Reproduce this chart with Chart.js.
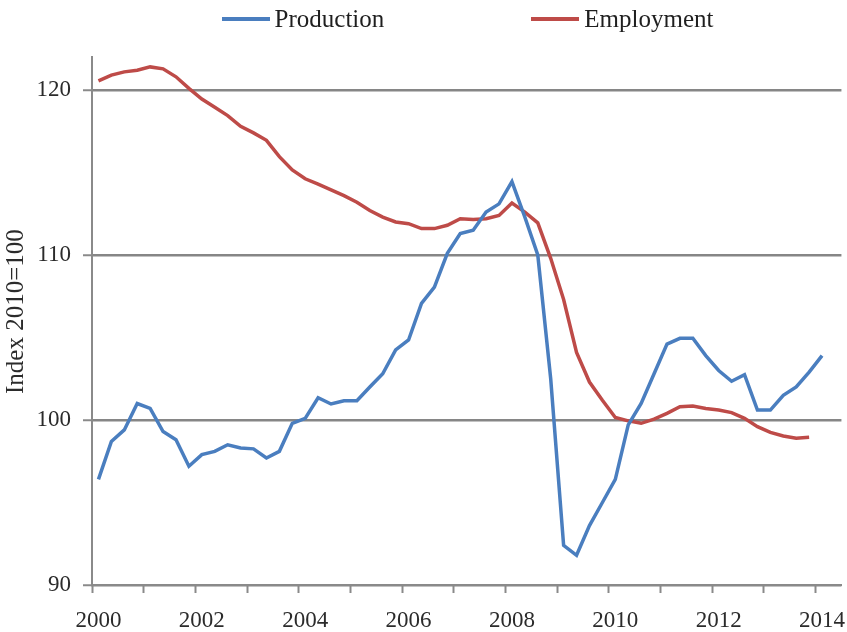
<!DOCTYPE html>
<html>
<head>
<meta charset="utf-8">
<script src="https://cdn.jsdelivr.net/npm/chart.js@4.4.1/dist/chart.umd.min.js"></script>
<style>
    body { margin: 0; background: #fff; }
    #grafico { position: relative; width: 847px; height: 632px; }
    #legenda {
        position: absolute; top: 5px; left: 92px; width: 751px;
        display: flex; justify-content: center; gap: 147px;
        font-family: 'Liberation Serif', serif; font-size: 25px; color: #1f1f1f;
    }
    #legenda .item { display: flex; align-items: center; }
    #legenda .linha { width: 48px; height: 4px; margin-right: 5px; }
</style>
</head>
<body>
<div id="grafico">
    <canvas id="graficoIndice"></canvas>
    <div id="legenda"></div>
</div>
<script>
const years = [2000, 2001, 2002, 2003, 2004, 2005, 2006, 2007, 2008, 2009, 2010, 2011, 2012, 2013, 2014];
const quarterNames = ['Q1', 'Q2', 'Q3', 'Q4'];
const yTicks = [90, 100, 110, 120];

const production = [
    96.4, 98.7, 99.4, 101.0,
    100.7, 99.3, 98.8, 97.2,
    97.9, 98.1, 98.5, 98.3,
    98.25, 97.7, 98.1, 99.8,
    100.1, 101.35, 100.97, 101.17,
    101.17, 102.0, 102.8, 104.25,
    104.85, 107.07, 108.05, 110.1,
    111.3, 111.5, 112.6, 113.1,
    114.45, 112.3, 110.0, 102.5,
    92.4, 91.8, 93.6, 95.0,
    96.4, 99.7, 101.0, 102.8,
    104.6, 104.95, 104.95, 103.9,
    103.0, 102.35, 102.75, 100.6,
    100.6, 101.5, 102.0, 102.9,
    103.9
];

const employment = [
    120.55, 120.9, 121.1, 121.2,
    121.4, 121.28, 120.8, 120.1,
    119.45, 118.95, 118.45, 117.8,
    117.4, 116.95, 115.96, 115.15,
    114.62, 114.3, 113.95, 113.6,
    113.2, 112.7, 112.3, 112.0,
    111.9, 111.6, 111.6, 111.8,
    112.2, 112.15, 112.2, 112.4,
    113.15, 112.6, 111.95, 109.8,
    107.3, 104.1, 102.3, 101.2,
    100.15, 99.95, 99.8, 100.05,
    100.4, 100.8, 100.85, 100.7,
    100.6, 100.45, 100.1, 99.6,
    99.25, 99.03, 98.9, 98.95
];

// eixo de categorias trimestral, de 2000 Q1 ate 2014 Q2
let quarters = [];
years.forEach((year) => {
    quarterNames.forEach((q) => quarters.push(year + ' ' + q));
});
quarters = quarters.slice(0, 58);

inicializar();

function inicializar() {
    Chart.defaults.font.family = "'Liberation Serif', serif";
    Chart.defaults.color = '#2b2b2b';

    let chart = renderizarGrafico();
    montarLegenda(chart);
}

function renderizarGrafico() {
    var ctx = document.getElementById('graficoIndice');
    var cinza = '#8a8a8a';

    return new Chart(ctx, {
        type: 'line',
        data: {
            labels: quarters,
            datasets: [
                {
                    label: 'Production',
                    data: production,
                    borderColor: '#4a7ebf',
                    backgroundColor: '#4a7ebf',
                    borderWidth: 3.5
                },
                {
                    label: 'Employment',
                    data: employment,
                    borderColor: '#be4b48',
                    backgroundColor: '#be4b48',
                    borderWidth: 3.5
                }
            ]
        },
        options: {
            responsive: true,
            maintainAspectRatio: false,
            animation: false,
            elements: {
                point: { radius: 0 },
                line: { tension: 0 }
            },
            layout: {
                padding: { top: 57, right: 4, bottom: 0, left: 0 }
            },
            plugins: {
                legend: { display: false },
                tooltip: { enabled: false }
            },
            scales: {
                x: {
                    type: 'category',
                    offset: true,
                    grid: {
                        offset: true,
                        drawOnChartArea: false,
                        tickLength: 8,
                        tickWidth: 2,
                        tickColor: (c) => c.index % 4 === 0 ? cinza : 'rgba(0,0,0,0)'
                    },
                    border: { color: cinza, width: 2 },
                    ticks: {
                        autoSkip: false,
                        maxRotation: 0,
                        padding: 12,
                        font: { size: 23, lineHeight: 1.35 },
                        callback: (value, index) => index % 8 === 0 ? quarters[index].slice(0, 4) : ''
                    },
                    afterFit: (scale) => { scale.height = 47; }
                },
                y: {
                    min: 90,
                    max: 122,
                    afterBuildTicks: (scale) => {
                        scale.ticks = yTicks.map((v) => ({ value: v }));
                    },
                    grid: {
                        color: '#868686',
                        lineWidth: 2.5,
                        tickLength: 9,
                        tickColor: cinza,
                        tickWidth: 2
                    },
                    border: { color: cinza, width: 2 },
                    ticks: {
                        padding: 12,
                        font: { size: 23, lineHeight: 1 }
                    },
                    title: {
                        display: true,
                        text: '   Index 2010=100',
                        font: { size: 25, lineHeight: 1.2 },
                        padding: { top: 1, bottom: 0 }
                    },
                    afterFit: (scale) => { scale.width = 92; }
                }
            }
        }
    });
}

function montarLegenda(chart) {
    let legenda = document.getElementById('legenda');

    chart.data.datasets.forEach((ds) => {
        let item = document.createElement('div');
        item.className = 'item';

        let linha = document.createElement('span');
        linha.className = 'linha';
        linha.style.background = ds.borderColor;

        let texto = document.createElement('span');
        texto.textContent = ds.label;

        item.appendChild(linha);
        item.appendChild(texto);
        legenda.appendChild(item);
    });
}
</script>
</body>
</html>
